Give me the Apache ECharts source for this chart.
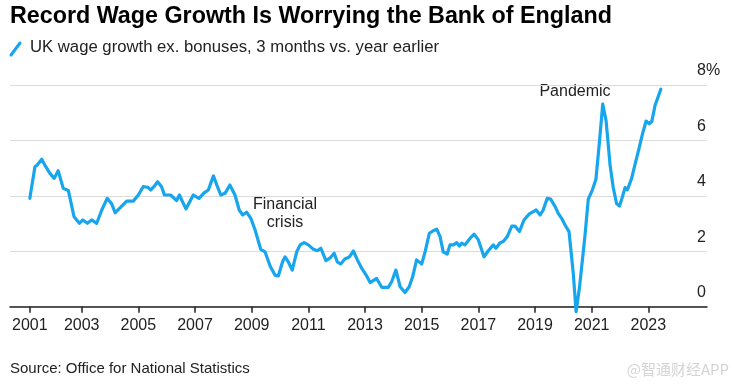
<!DOCTYPE html>
<html><head><meta charset="utf-8">
<script src="https://cdn.jsdelivr.net/npm/echarts@6/dist/echarts.min.js"></script>
<style>html,body{margin:0;padding:0;background:#fff}#c{width:737px;height:391px}</style>
</head><body><div id="c"></div>
<script>
const chartTitle = 'Record Wage Growth Is Worrying the Bank of England';
const seriesName = 'UK wage growth ex. bonuses, 3 months vs. year earlier';
const sourceText = 'Source: Office for National Statistics';
const watermark = '@智通财经APP';
const notes = ['Financial\ncrisis', 'Pandemic'];

// time in decimal years (data starts Mar 2001), values in %
const years = [
  2001.17, 2001.35, 2001.43, 2001.59, 2001.70, 2001.88, 2002.03, 2002.17, 2002.35, 2002.53,
  2002.73, 2002.92, 2003.04, 2003.20, 2003.35, 2003.53, 2003.71, 2003.90, 2004.06, 2004.18,
  2004.38, 2004.59, 2004.82, 2005.00, 2005.17, 2005.33, 2005.44, 2005.55, 2005.68, 2005.82,
  2005.92, 2006.14, 2006.35, 2006.45, 2006.53, 2006.68, 2006.94, 2007.14, 2007.32, 2007.47,
  2007.65, 2007.77, 2007.91, 2008.06, 2008.23, 2008.41, 2008.56, 2008.68, 2008.82, 2008.97,
  2009.12, 2009.32, 2009.47, 2009.65, 2009.82, 2009.94, 2010.09, 2010.18, 2010.29, 2010.43,
  2010.59, 2010.71, 2010.85, 2011.00, 2011.18, 2011.32, 2011.44, 2011.62, 2011.76, 2011.91,
  2012.02, 2012.14, 2012.29, 2012.45, 2012.59, 2012.73, 2012.88, 2013.04, 2013.18, 2013.41,
  2013.59, 2013.82, 2013.94, 2014.09, 2014.24, 2014.41, 2014.56, 2014.68, 2014.82, 2015.00,
  2015.12, 2015.27, 2015.41, 2015.53, 2015.65, 2015.76, 2015.90, 2016.00, 2016.12, 2016.24,
  2016.33, 2016.41, 2016.53, 2016.71, 2016.85, 2017.00, 2017.20, 2017.35, 2017.53, 2017.62,
  2017.77, 2017.88, 2018.02, 2018.18, 2018.29, 2018.45, 2018.61, 2018.80, 2018.94, 2019.04,
  2019.18, 2019.29, 2019.43, 2019.55, 2019.71, 2019.82, 2019.94, 2020.06, 2020.20, 2020.35,
  2020.45, 2020.57, 2020.76, 2020.88, 2021.02, 2021.15, 2021.27, 2021.39, 2021.51, 2021.65,
  2021.76, 2021.88, 2021.98, 2022.06, 2022.18, 2022.26, 2022.41, 2022.53, 2022.68, 2022.80,
  2022.92, 2023.03, 2023.12, 2023.24, 2023.32, 2023.44
];
const wageGrowth = [
  3.91, 5.05, 5.11, 5.32, 5.11, 4.81, 4.63, 4.91, 4.27, 4.19,
  3.25, 3.01, 3.13, 3.01, 3.13, 3.01, 3.49, 3.91, 3.71, 3.39,
  3.59, 3.81, 3.81, 4.03, 4.33, 4.31, 4.21, 4.33, 4.51, 4.33,
  4.03, 4.03, 3.83, 4.03, 3.85, 3.53, 4.03, 3.91, 4.11, 4.21,
  4.72, 4.39, 4.03, 4.09, 4.39, 4.03, 3.49, 3.31, 3.41, 3.19,
  2.77, 2.07, 1.98, 1.47, 1.14, 1.11, 1.62, 1.80, 1.62, 1.32,
  1.98, 2.23, 2.31, 2.23, 2.07, 2.02, 2.11, 1.66, 1.75, 1.93,
  1.62, 1.54, 1.72, 1.80, 2.01, 1.69, 1.39, 1.14, 0.87, 1.02,
  0.70, 0.70, 0.90, 1.32, 0.72, 0.51, 0.72, 1.08, 1.69, 1.54,
  1.98, 2.65, 2.74, 2.80, 2.53, 1.98, 1.90, 2.23, 2.23, 2.31,
  2.19, 2.29, 2.23, 2.47, 2.62, 2.41, 1.80, 2.02, 2.23, 2.11,
  2.31, 2.35, 2.53, 2.91, 2.91, 2.71, 3.13, 3.35, 3.43, 3.49,
  3.31, 3.49, 3.91, 3.88, 3.61, 3.37, 3.19, 2.95, 2.71, 1.20,
  -0.18, 0.70, 2.53, 3.88, 4.20, 4.60, 5.90, 7.31, 6.70, 5.10,
  4.30, 3.72, 3.63, 3.88, 4.30, 4.22, 4.63, 5.14, 5.75, 6.26,
  6.70, 6.60, 6.68, 7.28, 7.50, 7.85
];

const xTickValues = [2001.17, 2003, 2005, 2007, 2009, 2011, 2013, 2015, 2017, 2019, 2021, 2023];
const xTickLabels = ['2001', '2003', '2005', '2007', '2009', '2011', '2013', '2015', '2017', '2019', '2021', '2023'];
const yTickLabels = {0: '0', 2: '2', 4: '4', 6: '6', 8: '8%'};

const FONT = '"Liberation Sans", Arial, sans-serif';
const BLUE = '#17a5ee';

const chart = echarts.init(document.getElementById('c'), null, {renderer: 'canvas'});
chart.setOption({
  animation: false,
  backgroundColor: '#fff',
  grid: {left: 10, right: 30, top: 85, bottom: 84.3, containLabel: false},
  xAxis: {
    type: 'value', min: 2000.47, max: 2025.07,
    splitLine: {show: false},
    axisLine: {show: true, onZero: true, lineStyle: {color: '#222', width: 1.5}},
    axisTick: {show: true, customValues: xTickValues, length: 6, lineStyle: {color: '#222', width: 1.5}},
    axisLabel: {
      customValues: xTickValues, margin: 11, fontSize: 16, color: '#222', fontFamily: FONT,
      formatter: v => { const i = xTickValues.findIndex(t => Math.abs(t - v) < 0.01); return i >= 0 ? xTickLabels[i] : ''; }
    }
  },
  yAxis: {
    type: 'value', position: 'right', min: 0, max: 8, interval: 2,
    axisLine: {show: false}, axisTick: {show: false},
    splitLine: {show: true, lineStyle: {color: '#dcdcdc', width: 1.2}},
    axisLabel: {
      inside: true, align: 'left', margin: 10, verticalAlign: 'bottom', padding: [0, 0, 6, 0],
      fontSize: 16, color: '#222', fontFamily: FONT,
      formatter: v => yTickLabels[v] !== undefined ? yTickLabels[v] : ''
    }
  },
  series: [{
    name: seriesName, type: 'line', clip: false, showSymbol: false, symbol: 'none',
    data: years.map((t, i) => [t, wageGrowth[i]]),
    lineStyle: {color: BLUE, width: 3.2, join: 'round', cap: 'round'}
  }],
  graphic: [
    {type: 'text', left: 10, top: 5, style: {text: chartTitle, font: 'bold 23.3px ' + FONT, fill: '#000'}},
    {type: 'line', shape: {x1: 11, y1: 55, x2: 20, y2: 43}, style: {stroke: BLUE, lineWidth: 3, lineCap: 'round'}},
    {type: 'text', left: 30, top: 39, style: {text: seriesName, font: '16.7px ' + FONT, fill: '#222'}},
    {type: 'text', x: 285, y: 214, style: {text: notes[0], font: '16px ' + FONT, fill: '#222', align: 'center', verticalAlign: 'middle', lineHeight: 18}},
    {type: 'text', x: 575, y: 92, style: {text: notes[1], font: '16px ' + FONT, fill: '#222', align: 'center', verticalAlign: 'middle'}},
    {type: 'text', left: 10, top: 361, style: {text: sourceText, font: '15px ' + FONT, fill: '#222'}},
    {type: 'text', right: 8, top: 362, style: {text: watermark, font: '15px "Noto Sans CJK SC", ' + FONT, fill: '#d4d4d4'}}
  ]
});
</script></body></html>
